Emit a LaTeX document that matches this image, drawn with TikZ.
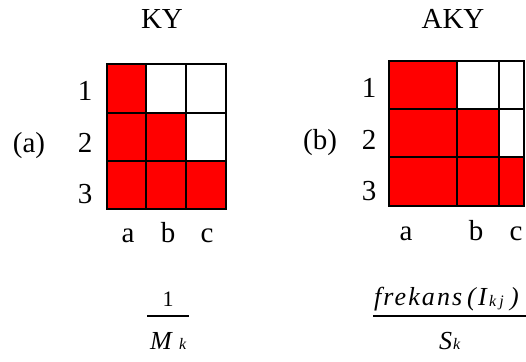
\documentclass[tikz,border=0pt]{standalone}
\usepackage{fontspec}
\setmainfont{Liberation Serif}
\begin{document}
\begin{tikzpicture}[x=1pt,y=-1pt,
  lbl/.style={inner sep=0pt,anchor=base,font=\fontsize{29}{34}\selectfont},
  cellred/.style={fill=red,draw=black,line width=1.6pt},
  cellwhite/.style={fill=white,draw=black,line width=1.6pt},
  bar/.style={line width=1.3pt},
  mathit/.style={inner sep=0pt,anchor=base west,font=\fontsize{26}{30}\selectfont\itshape},
  bigit/.style={inner sep=0pt,anchor=base west,font=\fontsize{26}{30}\selectfont\itshape},
  subs/.style={inner sep=0pt,anchor=base west,font=\fontsize{16}{18}\selectfont\itshape}]
\useasboundingbox (0,0) rectangle (526,361);
% ---- left grid (a)
\draw[cellred]   (107,64) rectangle (146,113);
\draw[cellwhite] (146,64) rectangle (186,113);
\draw[cellwhite] (186,64) rectangle (226,113);
\draw[cellred]   (107,113) rectangle (146,161);
\draw[cellred]   (146,113) rectangle (186,161);
\draw[cellwhite] (186,113) rectangle (226,161);
\draw[cellred]   (107,161) rectangle (146,209);
\draw[cellred]   (146,161) rectangle (186,209);
\draw[cellred]   (186,161) rectangle (226,209);
\node[lbl] (ky) at (162,29) {KY};
\node[lbl] (la) at (29,152) {(a)};
\node[lbl] (l1) at (85,100) {1};
\node[lbl] (l2) at (85,152) {2};
\node[lbl] (l3) at (85,203) {3};
\node[lbl] (ca) at (128,242) {a};
\node[lbl] (cb) at (168,242) {b};
\node[lbl] (cc) at (207,242) {c};
% ---- right grid (b)
\draw[cellred]   (389,61) rectangle (457,109);
\draw[cellwhite] (457,61) rectangle (499,109);
\draw[cellwhite] (499,61) rectangle (524,109);
\draw[cellred]   (389,109) rectangle (457,157);
\draw[cellred]   (457,109) rectangle (499,157);
\draw[cellwhite] (499,109) rectangle (524,157);
\draw[cellred]   (389,157) rectangle (457,206);
\draw[cellred]   (457,157) rectangle (499,206);
\draw[cellred]   (499,157) rectangle (524,206);
\node[lbl] (aky) at (453,29) {AKY};
\node[lbl] (lb) at (320,149) {(b)};
\node[lbl] (r1) at (369,97) {1};
\node[lbl] (r2) at (369,149) {2};
\node[lbl] (r3) at (369,200) {3};
\node[lbl] (da) at (406,240) {a};
\node[lbl] (db) at (476,240) {b};
\node[lbl] (dc) at (516,240) {c};
% ---- formulas
\node[inner sep=0pt,anchor=base,font=\fontsize{22}{26}\selectfont] (one) at (168,306) {1};
\coordinate (b1s) at (147,316);
\coordinate (b1e) at (189,316);
\draw[bar] (b1s) -- (b1e);
\node[bigit] (mm) at (150,349) {M};
\node[subs] (mk) at (179,349) {k};
\node[mathit] (fr) at (374,305) {\addfontfeature{LetterSpace=8}frekans};
\node[mathit] (op) at (467,305) {(};
\node[mathit] (ii) at (478,305) {I};
\node[subs] (kj) at (489,306) {\addfontfeature{LetterSpace=20}kj};
\node[mathit] (cp) at (510,305) {)};
\coordinate (b2s) at (373,316);
\coordinate (b2e) at (526,316);
\draw[bar] (b2s) -- (b2e);
\node[bigit] (ss) at (439,349) {S};
\node[subs] (sk) at (453,349) {k};
\end{tikzpicture}
\end{document}
